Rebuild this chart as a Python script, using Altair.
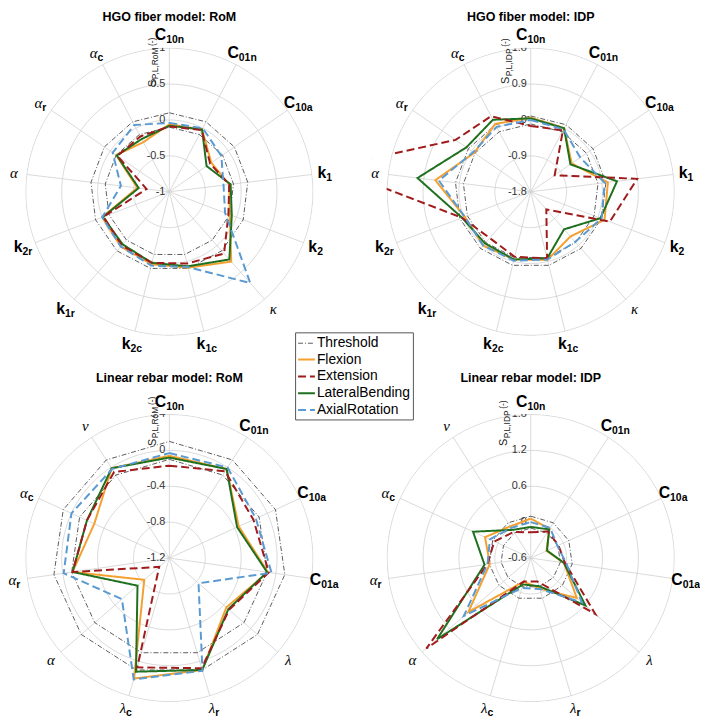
import math
import altair as alt
import pandas as pd

# ---------------- data ----------------
HGO_PARAMS = ["C10n", "C01n", "C10a", "k1", "k2", "κ", "k1c", "k2c", "k1r", "k2r", "α", "αr", "αc"]
LIN_PARAMS = ["C10n", "C01n", "C10a", "C01a", "λ", "λr", "λc", "α", "αr", "αc", "ν"]

HGO_ROM_TICKS = [-1, -0.5, 0, 0.5, 1]
HGO_IDP_TICKS = [-1.8, -0.9, 0, 0.9, 1.8]
LIN_ROM_TICKS = [-1.2, -0.8, -0.4, 0, 0.4]
LIN_IDP_TICKS = [-0.6, 0, 0.6, 1.2, 1.8]

THRESHOLDS = [0.1, -0.1]

HGO_ROM_FLEXION = [-0.06, -0.02, -0.29, -0.16, -0.10, 0.30, 0.09, 0.04, 0.02, 0.00, -0.55, -0.10, -0.22]
HGO_ROM_EXTENSION = [-0.09, -0.03, -0.31, -0.16, -0.12, 0.15, 0.03, 0.02, 0.00, -0.02, -0.68, -0.12, -0.13]
HGO_ROM_LATERAL = [-0.08, -0.02, -0.37, -0.14, -0.07, 0.26, 0.07, 0.02, -0.02, -0.01, -0.57, -0.11, -0.17]
HGO_ROM_AXIAL = [-0.04, 0.00, -0.12, -0.24, -0.17, 0.70, 0.08, 0.06, 0.02, 0.00, -0.32, -0.04, 0.05]

HGO_IDP_FLEXION = [0.06, 0.00, -0.55, 0.15, 0.18, -0.30, -0.04, -0.05, 0.00, -0.03, 0.61, -0.08, 0.12]
HGO_IDP_EXTENSION = [-0.15, -0.06, -1.07, 0.89, 0.32, -1.21, -0.08, -0.12, -0.25, 0.04, 3.25, 0.49, 0.34]
HGO_IDP_LATERAL = [0.04, 0.00, -0.59, 0.38, 0.07, -0.54, -0.08, -0.05, -0.07, 0.04, 1.06, 0.16, 0.24]
HGO_IDP_AXIAL = [0.00, -0.03, -0.29, 0.07, 0.10, -0.12, -0.05, -0.02, 0.00, -0.03, 0.52, -0.05, 0.04]

LIN_ROM_FLEXION = [-0.06, -0.02, -0.35, -0.09, -0.36, 0.10, 0.20, -0.83, -0.11, -0.28, -0.01]
LIN_ROM_EXTENSION = [-0.17, -0.05, -0.17, -0.08, -0.32, 0.08, 0.07, -1.05, -0.11, -0.19, -0.06]
LIN_ROM_LATERAL = [-0.08, -0.02, -0.37, -0.10, -0.33, 0.10, 0.12, -0.73, -0.11, -0.19, -0.01]
LIN_ROM_AXIAL = [-0.03, 0.00, -0.14, -0.05, -0.77, 0.11, 0.21, -0.50, -0.01, 0.00, -0.02]

LIN_IDP_FLEXION = [0.06, -0.02, -0.31, -0.04, 0.42, -0.07, -0.19, 0.78, 0.09, 0.24, 0.03]
LIN_IDP_EXTENSION = [-0.17, -0.07, -0.09, -0.02, 0.83, -0.19, -0.19, 1.71, 0.13, 0.07, -0.08]
LIN_IDP_LATERAL = [-0.08, -0.03, -0.30, -0.04, 0.61, -0.11, -0.14, 1.47, 0.18, 0.46, -0.04]
LIN_IDP_AXIAL = [0.00, 0.00, -0.11, 0.00, 0.53, -0.06, -0.08, 0.88, 0.13, 0.15, 0.00]

SERIES = ["Threshold", "Flexion", "Extension", "LateralBending", "AxialRotation"]
COLORS = ["#333333", "#F4A030", "#A01B1B", "#1E701E", "#5A9AD2"]
DASHES = [[5, 2, 1, 2], [1, 0], [8, 4], [1, 0], [8, 4]]
WIDTHS = [0.8, 2, 2, 2, 2]
DRAW_ORDER = ["Flexion", "LateralBending", "Extension", "AxialRotation"]

# ---------------- layout / style ----------------
R = 145.0          # pixels per unit radius
LAB_R = 1.09       # label radius (units)
GRID = "#d0d0d0"
FONT = "Liberation Sans"
CIRCLE_STEPS = 180  # polyline resolution of the grid circles
MASK_W = 120.0      # width (px) of the white band that hides lines beyond the rim

SANS_REG = {"P": .667, ",": .278, "L": .556, "R": .722, "o": .556, "M": .833,
            "I": .278, "D": .722, "(": .333, ")": .333, "-": .333, "S": .667}
SANS_BOLD = {"C": .722, "k": .556, "n": .611, "a": .556, "c": .556, "r": .389}


def tw(s, size, table, default=0.556):
    return size * sum(table.get(ch, default) for ch in s)


PANELS = [
    dict(title="HGO fiber model: RoM", params=HGO_PARAMS, ticks=HGO_ROM_TICKS, sub="P,L,RoM",
         data={"Flexion": HGO_ROM_FLEXION, "Extension": HGO_ROM_EXTENSION,
               "LateralBending": HGO_ROM_LATERAL, "AxialRotation": HGO_ROM_AXIAL},
         W=322, H=364, title_dy=176, ylab_dx=-14, ylab_r=0.73),
    dict(title="HGO fiber model: IDP", params=HGO_PARAMS, ticks=HGO_IDP_TICKS, sub="P,L,IDP",
         data={"Flexion": HGO_IDP_FLEXION, "Extension": HGO_IDP_EXTENSION,
               "LateralBending": HGO_IDP_LATERAL, "AxialRotation": HGO_IDP_AXIAL},
         W=322, H=364, title_dy=176, ylab_dx=-22, ylab_r=0.75),
    dict(title="Linear rebar model: RoM", params=LIN_PARAMS, ticks=LIN_ROM_TICKS, sub="P,L,RoM",
         data={"Flexion": LIN_ROM_FLEXION, "Extension": LIN_ROM_EXTENSION,
               "LateralBending": LIN_ROM_LATERAL, "AxialRotation": LIN_ROM_AXIAL},
         W=322, H=318, title_dy=182, ylab_dx=-14, ylab_r=0.78),
    dict(title="Linear rebar model: IDP", params=LIN_PARAMS, ticks=LIN_IDP_TICKS, sub="P,L,IDP",
         data={"Flexion": LIN_IDP_FLEXION, "Extension": LIN_IDP_EXTENSION,
               "LateralBending": LIN_IDP_LATERAL, "AxialRotation": LIN_IDP_AXIAL},
         W=322, H=318, title_dy=182, ylab_dx=-24, ylab_r=0.78),
]

LEG = alt.Legend(title=None, orient="none", legendX=288, legendY=324, symbolType="stroke",
                 symbolSize=289, labelFontSize=14, labelFont=FONT, labelColor="black",
                 strokeColor="#555555", fillColor="white", padding=2, rowPadding=0,
                 labelOffset=1, labelLimit=0)


def panel(p):
    params = p["params"]
    n = len(params)
    ticks = p["ticks"]
    vmin, vmax = ticks[0], ticks[-1]
    W, H = p["W"], p["H"]
    xs = alt.Scale(domain=[-W / 2 / R, W / 2 / R], nice=False, zero=False)
    ys = alt.Scale(domain=[-H / 2 / R, H / 2 / R], nice=False, zero=False)

    def X(f):
        return alt.X(f, type="quantitative", scale=xs, axis=None)

    def Y(f):
        return alt.Y(f, type="quantitative", scale=ys, axis=None)

    # grid circles drawn as closed polylines at each tick level
    tick_df = pd.DataFrame({"tick": ticks, "label": [f"{t:g}" for t in ticks]})
    frac = f"(datum.tick-({vmin}))/({vmax}-({vmin}))"
    circ_rows = [dict(tick=t, k=k) for t in ticks[1:] for k in range(CIRCLE_STEPS + 1)]
    circ_df = pd.DataFrame(circ_rows)
    grid = alt.Chart(circ_df).transform_calculate(
        f=frac, a=f"2*PI*datum.k/{CIRCLE_STEPS}",
        cx="datum.f*sin(datum.a)", cy="datum.f*cos(datum.a)"
    ).mark_line(color=GRID, strokeWidth=0.8).encode(
        x=X("cx"), y=Y("cy"), detail="tick:N", order="k:Q"
    )

    # white band outside the rim (hides parts of lines beyond the outer circle)
    mask_df = pd.DataFrame({"k": list(range(CIRCLE_STEPS + 1))})
    mr = 1 + (MASK_W / 2 + 0.6) / R
    mask = alt.Chart(mask_df).transform_calculate(
        a=f"2*PI*datum.k/{CIRCLE_STEPS}",
        mx=f"{mr}*sin(datum.a)", my=f"{mr}*cos(datum.a)"
    ).mark_line(color="white", strokeWidth=MASK_W, clip=True).encode(
        x=X("mx"), y=Y("my"), order="k:Q"
    )

    # label table
    lab = []
    for i, name in enumerate(params):
        main, sub = name[0], name[1:]
        greek = main not in "Ck"
        m = 15 * 0.5 if greek else tw(main, 16, SANS_BOLD)
        s = tw(sub, 10.5, SANS_BOLD)
        lab.append(dict(i=i, main=main, sub=sub, greek=greek, shift=(m - s) / 2))
    lab_df = pd.DataFrame(lab)
    theta = f"2*PI*datum.i/{n}"

    spokes = alt.Chart(lab_df).transform_calculate(
        theta=theta, x0="0", y0="0", x1="sin(datum.theta)", y1="cos(datum.theta)"
    ).mark_rule(color=GRID, strokeWidth=0.8).encode(x=X("x0"), y=Y("y0"), x2="x1:Q", y2="y1:Q")

    tick_text = alt.Chart(tick_df).transform_calculate(f=frac, x0="0").mark_text(
        align="right", baseline="middle", dx=-4, fontSize=11, color="#333333", font=FONT
    ).encode(x=X("x0"), y=Y("f"), text="label:N")

    # series lines
    rows = []
    for k, th in enumerate(THRESHOLDS):
        for i in range(n + 1):
            rows.append(dict(series="Threshold", line=f"thr{k}", i=i, v=th))
    for s, vals in p["data"].items():
        for i in range(n + 1):
            rows.append(dict(series=s, line=s, i=i, v=vals[i % n]))
    df = pd.DataFrame(rows)

    enc = dict(
        x=X("px"), y=Y("py"),
        color=alt.Color("series:N", scale=alt.Scale(domain=SERIES, range=COLORS), legend=LEG),
        strokeDash=alt.StrokeDash("series:N", scale=alt.Scale(domain=SERIES, range=DASHES), legend=LEG),
        strokeWidth=alt.StrokeWidth("series:N", scale=alt.Scale(type="ordinal", domain=SERIES, range=WIDTHS),
                                    legend=LEG),
        detail="line:N", order="i:Q",
    )
    base = alt.Chart(df).transform_calculate(
        theta=theta, rr=f"(datum.v-({vmin}))/({vmax}-({vmin}))",
        px="datum.rr*sin(datum.theta)", py="datum.rr*cos(datum.theta)"
    )
    line_layers = []
    for s in ["Threshold"] + DRAW_ORDER:
        line_layers.append(
            base.transform_filter(alt.datum.series == s).mark_line(clip=True).encode(**enc)
        )

    lab_base = alt.Chart(lab_df).transform_calculate(
        theta=theta,
        lx=f"{LAB_R}*sin(datum.theta) + datum.shift/{R}",
        ly=f"{LAB_R}*cos(datum.theta)",
    )
    lab_latin = lab_base.transform_filter("!datum.greek").mark_text(
        align="right", baseline="middle", font=FONT, fontWeight="bold", fontSize=16, color="black"
    ).encode(x=X("lx"), y=Y("ly"), text="main:N")
    lab_greek = lab_base.transform_filter("datum.greek").mark_text(
        align="right", baseline="middle", font="Liberation Serif", fontStyle="italic",
        fontSize=15, color="black"
    ).encode(x=X("lx"), y=Y("ly"), text="main:N")
    lab_sub = lab_base.transform_filter("datum.sub != ''").mark_text(
        align="left", baseline="middle", font=FONT, fontWeight="bold", fontSize=10.5,
        dy=5, color="black"
    ).encode(x=X("lx"), y=Y("ly"), text="sub:N")

    # rotated radial-axis title
    yl = pd.DataFrame({"s": ["S"], "sub": [p["sub"]], "unit": ["(-)"]})
    yl_base = alt.Chart(yl).transform_calculate(
        ax=f"{p['ylab_dx'] / R}", ay=f"{p['ylab_r']}"
    )
    s_w = tw("S", 11, SANS_REG)
    sub_w = tw(p["sub"], 8.5, SANS_REG)
    yl_s = yl_base.mark_text(angle=270, align="left", baseline="alphabetic", fontSize=11,
                             font=FONT, color="#222222").encode(x=X("ax"), y=Y("ay"), text="s:N")
    yl_sub = yl_base.mark_text(angle=270, align="left", baseline="alphabetic", fontSize=8.5,
                               font=FONT, color="#222222", dx=s_w + 0.5, dy=3).encode(
        x=X("ax"), y=Y("ay"), text="sub:N")
    yl_unit = yl_base.mark_text(angle=270, align="left", baseline="alphabetic", fontSize=8.5,
                                font=FONT, color="#222222", dx=s_w + sub_w + 1, dy=-1).encode(
        x=X("ax"), y=Y("ay"), text="unit:N")

    ttl = alt.Chart(pd.DataFrame({"t": [p["title"]]})).transform_calculate(
        tx="0", ty=f"{p['title_dy'] / R}"
    ).mark_text(align="center", baseline="middle", font=FONT, fontWeight="bold",
                fontSize=12.6, color="black").encode(x=X("tx"), y=Y("ty"), text="t:N")

    layers = [grid, spokes, tick_text] + line_layers + [mask, lab_latin, lab_greek, lab_sub,
                                                        yl_s, yl_sub, yl_unit, ttl]
    return alt.layer(*layers).properties(width=W, height=H)


charts = [panel(p) for p in PANELS]

chart = alt.concat(
    *charts, columns=2, spacing={"row": 29, "column": 43}, bounds="flush"
).resolve_scale(
    color="shared", strokeDash="shared", strokeWidth="shared",
    x="independent", y="independent"
).properties(padding=0).configure(font=FONT).configure_view(strokeWidth=0)

chart.save("out.html", embed_options={"renderer": "svg", "actions": False})
